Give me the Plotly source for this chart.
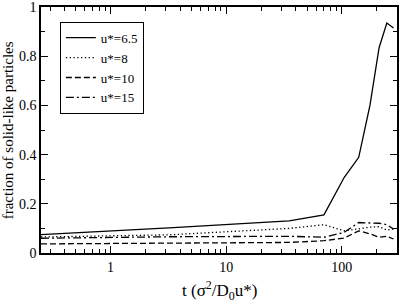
import plotly.graph_objects as go

t = [0.25, 3.2, 35, 70, 105, 140, 175, 210, 245, 280]
u65 = [0.075, 0.102, 0.131, 0.155, 0.308, 0.389, 0.60, 0.835, 0.935, 0.915]
u8 = [0.065, 0.074, 0.100, 0.115, 0.090, 0.100, 0.105, 0.107, 0.093, 0.098]
u10 = [0.037, 0.039, 0.043, 0.050, 0.061, 0.090, 0.078, 0.064, 0.068, 0.057]
u15 = [0.060, 0.066, 0.068, 0.064, 0.084, 0.124, 0.122, 0.121, 0.115, 0.097]

names = ["u*=6.5", "u*=8", "u*=10", "u*=15"]
dashes = ["solid", "1.3px,2.5px", "6px,3px", "8px,3px,2px,3px"]
series = [u65, u8, u10, u15]

xticks = [1, 10, 100]
xticklabels = ["1", "10", "100"]
xminor = [0.3, 0.4, 0.5, 0.6, 0.7, 0.8, 0.9, 2, 3, 4, 5, 6, 7, 8, 9,
          20, 30, 40, 50, 60, 70, 80, 90, 200, 300]
yticks = [0, 0.2, 0.4, 0.6, 0.8, 1]
yticklabels = ["0", "0.2", "0.4", "0.6", "0.8", "1"]

font = "Liberation Serif"

fig = go.Figure()
for n, d, s in zip(names, dashes, series):
    fig.add_trace(go.Scatter(x=t, y=s, mode="lines", name=n,
                             line=dict(color="black", width=1.3, dash=d)))

fig.update_layout(
    width=399, height=302,
    margin=dict(l=41, r=2, t=7, b=49),
    paper_bgcolor="white", plot_bgcolor="white",
    font=dict(family=font, color="black", size=14),
    showlegend=True,
    legend=dict(x=0.053, y=0.94, xanchor="left", yanchor="top",
                bordercolor="black", borderwidth=1, bgcolor="white",
                font=dict(size=13, family=font, color="black"), tracegroupgap=0),
    annotations=[
        dict(text="t (σ<sup>2</sup>/D<sub>0</sub>u*)", xref="paper", yref="paper",
             x=0.5, y=-0.095, xanchor="center", yanchor="top", showarrow=False,
             font=dict(size=17, family=font, color="black")),
        dict(text="fraction of solid-like particles", xref="paper", yref="paper",
             x=-0.12, y=0.5, xanchor="left", yanchor="middle", textangle=-90,
             showarrow=False, font=dict(size=15, family=font, color="black")),
    ],
)
fig.update_xaxes(
    type="log", range=[0.39794 - 1, 2.4771], automargin=False,
    tickvals=xticks, ticktext=xticklabels,
    ticks="inside", ticklen=7, tickwidth=1, tickcolor="black",
    minor=dict(tickvals=xminor, ticks="inside", ticklen=4, tickcolor="black"),
    showline=True, linecolor="black", linewidth=1.5, mirror="allticks",
    showgrid=False, zeroline=False,
    tickfont=dict(size=14, color="black", family=font),
)
fig.update_yaxes(
    range=[0, 1.0005], automargin=False,
    tickvals=yticks, ticktext=yticklabels,
    ticks="inside", ticklen=7, tickwidth=1, tickcolor="black",
    minor=dict(dtick=0.1, ticks="inside", ticklen=4, tickcolor="black"),
    showline=True, linecolor="black", linewidth=1.5, mirror="allticks",
    showgrid=False, zeroline=False,
    tickfont=dict(size=14, color="black", family=font),
)

fig.write_html("out.html", config={"displayModeBar": False},
               post_script="document.body.style.margin='0';document.body.style.padding='0';")
